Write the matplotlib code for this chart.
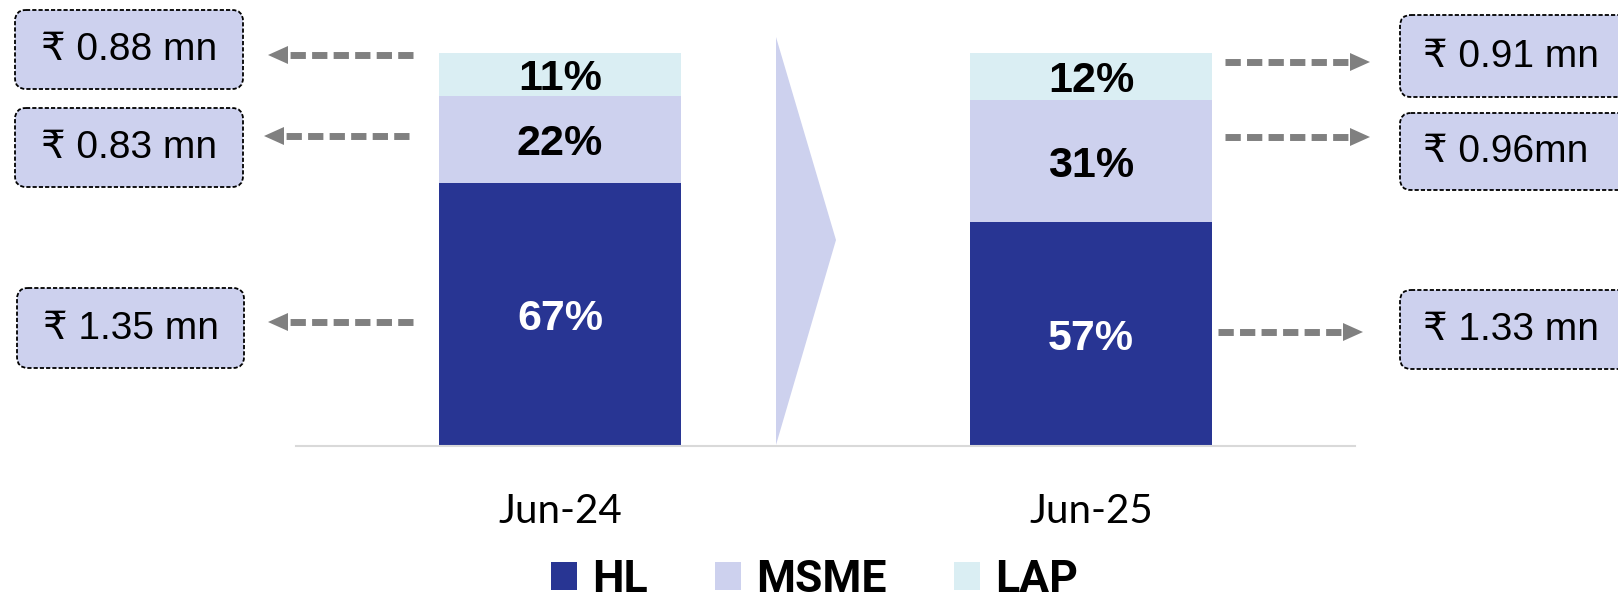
import matplotlib
matplotlib.use("Agg")
import matplotlib.pyplot as plt
from matplotlib.patches import FancyBboxPatch, Polygon, Patch
from matplotlib.transforms import offset_copy

plt.rcParams['lines.scale_dashes'] = False

# ---------------- data ----------------
categories = ['Jun-24', 'Jun-25']
hl = [67, 57]
msme = [22, 31]
lap = [11, 12]
series_names = ['HL', 'MSME', 'LAP']
left_tickets = ['₹ 0.88 mn', '₹ 0.83 mn', '₹ 1.35 mn']    # LAP, MSME, HL for Jun-24
right_tickets = ['₹ 0.91 mn', '₹ 0.96mn', '₹ 1.33 mn']    # LAP, MSME, HL for Jun-25

# ---------------- style ----------------
C_HL = '#283593'
C_MSME = '#CDD1EE'
C_LAP = '#DAEEF3'
C_ARROW = '#808080'
W, H = 1618, 602
RUPEE_FONT = ['Liberation Sans', 'DejaVu Sans']
PCT_FONT = ['Liberation Sans', 'DejaVu Sans']

fig = plt.figure(figsize=(W / 100, H / 100), dpi=100)

# main bar axes (pixel placement)
x0, x1, ytop, ybase = 296, 1355, 53, 446
ax = fig.add_axes([x0 / W, (H - ybase) / H, (x1 - x0) / W, (ybase - ytop) / H])
xpos = [0, 1]
bw = 0.456
b1 = ax.bar(xpos, hl, bw, color=C_HL, label='HL')
b2 = ax.bar(xpos, msme, bw, bottom=hl, color=C_MSME, label='MSME')
bottoms3 = [a + b for a, b in zip(hl, msme)]
b3 = ax.bar(xpos, lap, bw, bottom=bottoms3, color=C_LAP, label='LAP')
ax.set_xlim(-0.497, 1.497)
ax.set_ylim(0, 100)
for s in ['top', 'right', 'left']:
    ax.spines[s].set_visible(False)
ax.spines['bottom'].set_color('#D9D9D9')
ax.spines['bottom'].set_linewidth(1.5)
ax.set_yticks([])
ax.set_xticks(xpos)
ax.set_xticklabels(categories, fontsize=29, family=['Lato', 'DejaVu Sans'])
ax.tick_params(axis='x', length=0, pad=34)

# percent labels
tr = offset_copy(ax.transData, fig=fig, x=0, y=-3.5, units='points')
for i in range(len(categories)):
    ax.text(xpos[i], hl[i] / 2, f'{hl[i]}%', ha='center', va='center', color='white',
            fontsize=31, fontweight='bold', family=PCT_FONT, transform=tr)
    ax.text(xpos[i], hl[i] + msme[i] / 2, f'{msme[i]}%', ha='center', va='center', color='black',
            fontsize=31, fontweight='bold', family=PCT_FONT, transform=tr)
    ax.text(xpos[i], bottoms3[i] + lap[i] / 2, f'{lap[i]}%', ha='center', va='center', color='black',
            fontsize=31, fontweight='bold', family=PCT_FONT, transform=tr)

# overlay axes in pixel coordinates for annotations
ov = fig.add_axes([0, 0, 1, 1], zorder=5)
ov.set_xlim(0, W)
ov.set_ylim(H, 0)
ov.axis('off')
ov.patch.set_alpha(0)

# chevron between bars
ov.add_patch(Polygon([(776, 37), (836, 240), (776, 445)], closed=True, color=C_MSME, lw=0))

def box(xl, yt, xr, yb):
    p = FancyBboxPatch((xl, yt), xr - xl, yb - yt,
                       boxstyle='round,pad=0,rounding_size=11',
                       facecolor=C_MSME, edgecolor='black', lw=1.3,
                       linestyle=(0, (3, 1.5)), clip_on=False)
    ov.add_patch(p)

def arrow(xtail, xtip, y):
    d = 1 if xtip > xtail else -1
    head_len, half_h = 20, 9
    xbase = xtip - d * head_len
    ov.plot([xtail, xbase], [y, y], color=C_ARROW, lw=5,
            linestyle=(0, (11, 4.5)), solid_capstyle='butt', dash_capstyle='butt')
    ov.add_patch(Polygon([(xtip, y), (xbase, y - half_h), (xbase, y + half_h)],
                         closed=True, color=C_ARROW, lw=0))

# left boxes (Jun-24)
left_boxes = [(15, 10, 243, 89), (15, 108, 243, 187), (17, 288, 244, 368)]
left_arrows = [(413, 268, 55), (409, 264, 136), (413, 268, 322)]
for (xl, yt, xr, yb), txt, (xa, xb, ya) in zip(left_boxes, left_tickets, left_arrows):
    box(xl, yt, xr, yb)
    ov.text((xl + xr) / 2, (yt + yb) / 2 + 1, txt, ha='center', va='center',
            fontsize=28, family=RUPEE_FONT, color='black')
    arrow(xa, xb, ya)

# right boxes (Jun-25)
right_boxes = [(1400, 15, 1640, 97), (1400, 113, 1640, 190), (1400, 290, 1640, 369)]
right_arrows = [(1225, 1370, 62), (1225, 1370, 137), (1218, 1363, 332)]
for (xl, yt, xr, yb), txt, (xa, xb, ya) in zip(right_boxes, right_tickets, right_arrows):
    box(xl, yt, xr, yb)
    ov.text(1423, (yt + yb) / 2 + 1, txt, ha='left', va='center',
            fontsize=28, family=RUPEE_FONT, color='black')
    arrow(xa, xb, ya)

# legend
handles = [Patch(facecolor=C_HL), Patch(facecolor=C_MSME), Patch(facecolor=C_LAP)]
leg = fig.legend(handles, series_names, loc='center', bbox_to_anchor=(814.5 / W, 1 - 580 / H),
                 ncol=3, frameon=False, handlelength=0.59, handleheight=0.59,
                 handletextpad=0.33, columnspacing=1.52, borderpad=0, borderaxespad=0,
                 prop={'family': ['Roboto', 'DejaVu Sans'], 'weight': 'bold', 'size': 32})

fig.savefig('out.png', dpi=100)
